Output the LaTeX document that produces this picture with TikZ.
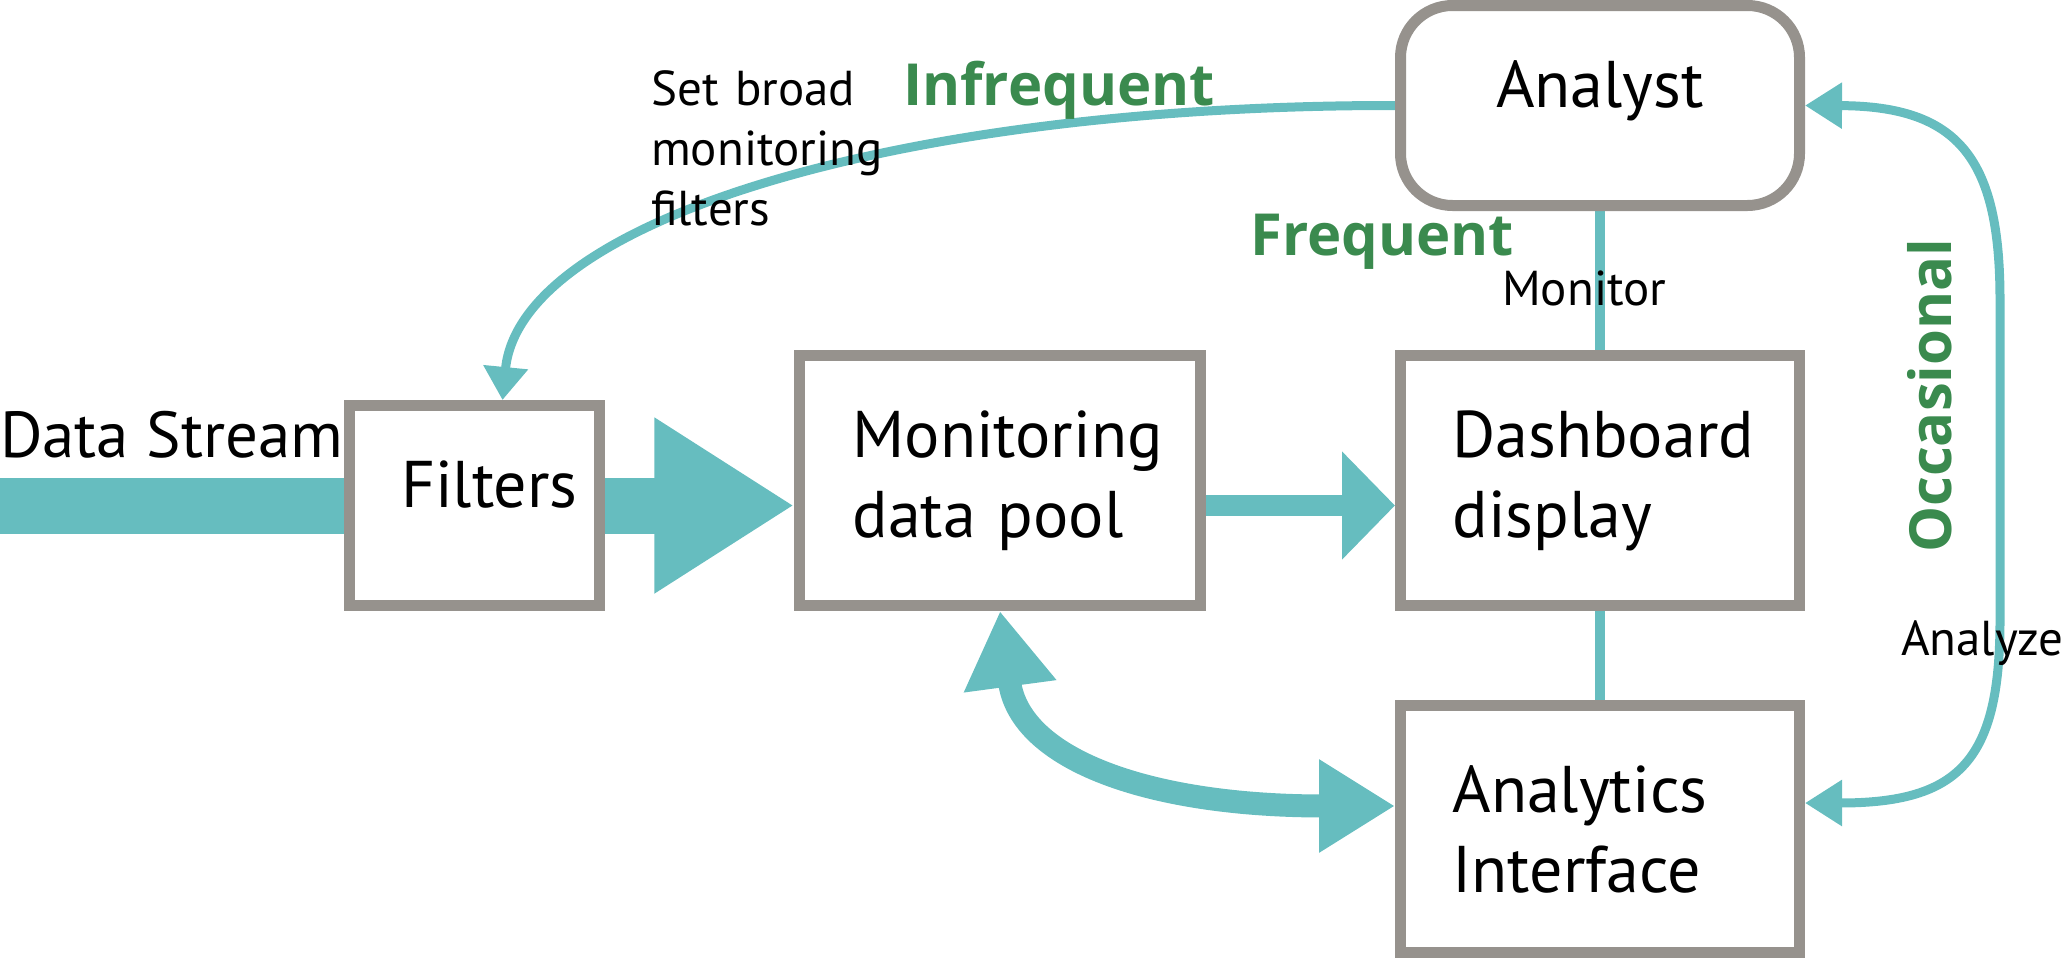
\documentclass[tikz,border=0pt]{standalone}
\usepackage{fontspec}
\setmainfont{PT Sans}
\newfontfamily\greenfont{Open Sans}
\usetikzlibrary{arrows.meta}
\definecolor{teal1}{HTML}{66BDBF}
\definecolor{grey1}{HTML}{96928D}
\definecolor{green1}{HTML}{3A8A4E}
\pgfdeclarelayer{bg}
\pgfsetlayers{bg,main}
\begin{document}
\begin{tikzpicture}[x=1pt,y=-1pt,
  boxbase/.style={draw=grey1,line width=11pt,fill=white,inner sep=0pt,
    font=\fontsize{66}{80}\selectfont},
  multibox/.style={boxbase,text width=295pt,align=left},
  lbl/.style={inner sep=0pt,font=\fontsize{49}{60}\selectfont},
  glbl/.style={inner sep=0pt,text=green1,font=\greenfont\bfseries\fontsize{58}{70}\selectfont},
  flow/.style={teal1,line width=#1},
]
\useasboundingbox (0,0) rectangle (2064,961);

% boxes
\node[boxbase,minimum width=250pt,minimum height=200pt,text depth=42pt,text width=147pt,align=left] (filters) at (474.5,505.5) {Filters};
\node[multibox,minimum width=400.5pt,minimum height=250pt] (pool) at (1000,480.5) {Monitoring\\data pool};
\node[multibox,minimum width=399pt,minimum height=250pt] (dash) at (1600,480.5) {Dashboard\\display};
\node[multibox,minimum width=399pt,minimum height=247pt] (ana) at (1600,829) {Analytics\\Interface};
\node[boxbase,rounded corners=52pt,minimum width=399pt,minimum height=200pt,text depth=43pt] (analyst) at (1600,105.5) {Analyst};

% labels
\node[inner sep=0pt,font=\fontsize{65}{80}\selectfont,anchor=base west] (dstext) at (0,457) {Data Stream};
\node[lbl,anchor=base west,text width=240pt,align=left] (setbroad) at (651,105) {Set broad\\monitoring\\filters};
\node[glbl,anchor=base west] (infreq) at (903,105) {Infrequent};
\node[glbl,anchor=base west] (freq) at (1250,255) {Frequent};
\node[lbl,anchor=base west] (monitor) at (1502,305) {Monitor};
\node[glbl,anchor=base west,rotate=90] (occas) at (1951,553) {Occasional};
\node[lbl,anchor=base west] (analyze) at (1901,655) {Analyze};

% connectors
\begin{pgfonlayer}{bg}
\coordinate (dsl) at (0,505.5);
\draw[flow=56pt] (dsl) -- (filters.west);
\draw[flow=56pt,-{Triangle[length=140pt,width=166pt]}] (filters.east) -- (filters.east -| pool.west);
\draw[flow=21pt,-{Triangle[length=53pt,width=105pt]}] (pool.east |- dsl) -- (dash.west |- dsl);
\draw[flow=23pt,{Triangle[length=76pt,width=88pt]}-{Triangle[length=76pt,width=88pt]}]
  (pool.south) .. controls (1020,760) and (1150,806) .. ([yshift=23pt]ana.west);
\draw[flow=10pt] (analyst.south) -- (dash.north);
\draw[flow=10pt] (dash.south) -- (ana.north);
\draw[flow=9pt,-{Triangle[length=33pt,width=43pt]}]
  (analyst.west) .. controls (900,105) and (520,220) .. ([xshift=28pt]filters.north);
\draw[flow=9pt,{Triangle[length=37pt,width=44pt]}-{Triangle[length=37pt,width=44pt]}]
  (analyst.east) .. controls (1960,106) and (2000,160) .. (2000,300) -- (2000,620)
  .. controls (2000,760) and (1960,803) .. ([yshift=26pt]ana.east);
\end{pgfonlayer}
\end{tikzpicture}
\end{document}
